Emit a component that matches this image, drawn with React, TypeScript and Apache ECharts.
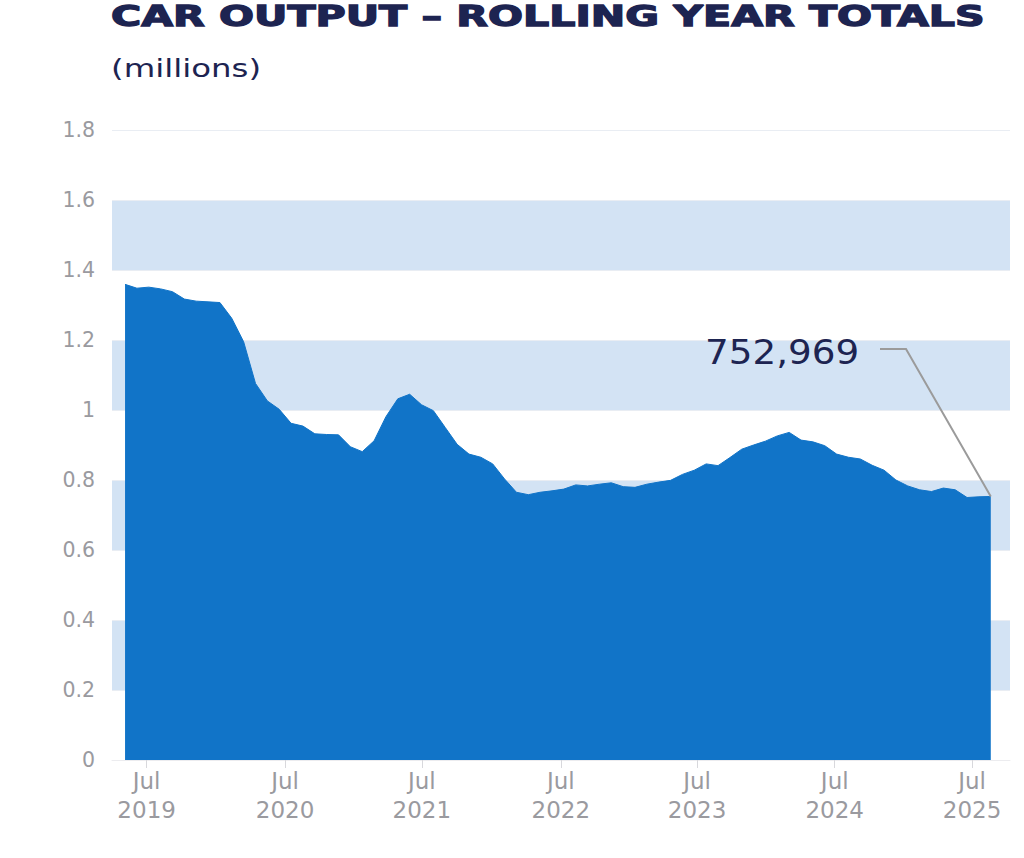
import React, { useEffect, useRef } from "react";
import * as echarts from "echarts";

// Rolling 12-month car output (millions), one value per month, oldest first
const outputMillions: number[] = [
  1.359, 1.348, 1.351, 1.346, 1.338, 1.317, 1.311, 1.309, 1.307, 1.262,
  1.195, 1.076, 1.026, 1.002, 0.962, 0.954, 0.932, 0.93, 0.929, 0.895,
  0.881, 0.912, 0.981, 1.032, 1.045, 1.015, 0.998, 0.95, 0.902, 0.874,
  0.865, 0.846, 0.803, 0.765, 0.758, 0.765, 0.769, 0.774, 0.786, 0.783,
  0.788, 0.792, 0.781, 0.779, 0.788, 0.794, 0.799, 0.816, 0.828, 0.846,
  0.841, 0.864, 0.888, 0.9, 0.911, 0.926, 0.936, 0.914, 0.909, 0.898,
  0.874, 0.865, 0.86, 0.842, 0.828, 0.8, 0.783, 0.772, 0.767, 0.777,
  0.772, 0.75, 0.752, 0.753,
];

// x-axis labels (July of each year) and where they sit on the month index scale
const tickLabels: string[] = [
  "Jul\n2019", "Jul\n2020", "Jul\n2021", "Jul\n2022", "Jul\n2023", "Jul\n2024", "Jul\n2025",
];
const tickPositions: number[] = [1.82, 13.49, 25.02, 36.74, 48.23, 59.84, 71.42];

const latestLabel = "752,969";
const titleText = "CAR OUTPUT \u2013 ROLLING YEAR TOTALS";
const subtitleText = "(millions)";

const NAVY = "#1d2451";
const GREY = "#9a9a9f";
const BLUE = "#1174c8";
const BAND = "#d3e3f4";
const FONT = "DejaVu Sans";

export default function App() {
  const ref = useRef<HTMLDivElement>(null);

  useEffect(() => {
    if (!ref.current) return;
    const chart = echarts.init(ref.current, null, { renderer: "svg" });
    const seriesData = outputMillions.map((v, i) => [i, v]);
    const lastIdx = outputMillions.length - 1;

    chart.setOption({
      animation: false,
      textStyle: { fontFamily: FONT },
      grid: { left: 112, right: 14, top: 130, bottom: 98 },
      xAxis: {
        type: "value",
        min: -1.1,
        max: 74.62,
        splitLine: { show: false },
        axisLine: { show: true, lineStyle: { color: "#ececef", width: 1 } },
        axisTick: {
          show: true,
          customValues: tickPositions,
          length: 8,
          lineStyle: { color: "#d8d8dc" },
        },
        axisLabel: {
          customValues: tickPositions,
          formatter: (v: number) => {
            const k = tickPositions.findIndex((p) => Math.abs(p - v) < 1e-6);
            return k >= 0 ? tickLabels[k] : "";
          },
          color: GREY,
          fontFamily: FONT,
          fontSize: 23,
          lineHeight: 29,
          margin: 6,
        },
      },
      yAxis: {
        type: "value",
        min: 0,
        max: 1.8,
        interval: 0.2,
        axisLine: { show: false },
        axisTick: { show: false },
        axisLabel: {
          formatter: (v: number) => String(Math.round(v * 10) / 10),
          color: GREY,
          fontFamily: FONT,
          fontSize: 20.5,
          margin: 17,
        },
        splitLine: { show: true, lineStyle: { color: "#e9edf3", width: 1 } },
        splitArea: {
          show: true,
          areaStyle: { color: ["rgba(255,255,255,0)", BAND] },
        },
      },
      series: [
        {
          type: "line",
          data: seriesData,
          symbol: "none",
          smooth: false,
          lineStyle: { width: 1, color: BLUE },
          areaStyle: { color: BLUE, opacity: 1 },
          z: 3,
        },
      ],
    });

    const p = chart.convertToPixel({ gridIndex: 0 }, [lastIdx, outputMillions[lastIdx]]) as number[];

    chart.setOption({
      graphic: [
        {
          type: "text",
          x: 111,
          y: 16.3,
          scaleX: 1.47,
          style: {
            text: titleText,
            fontFamily: FONT,
            fontWeight: "bold",
            fontSize: 28,
            fill: NAVY,
            stroke: NAVY,
            lineWidth: 1.3,
            align: "left",
            verticalAlign: "middle",
          },
        },
        {
          type: "text",
          x: 111,
          y: 69.5,
          scaleX: 1.35,
          style: {
            text: subtitleText,
            fontFamily: FONT,
            fontSize: 24,
            fill: NAVY,
            align: "left",
            verticalAlign: "middle",
          },
        },
        {
          type: "text",
          x: 705,
          y: 352,
          scaleX: 1.13,
          style: {
            text: latestLabel,
            fontFamily: FONT,
            fontSize: 33,
            fill: NAVY,
            align: "left",
            verticalAlign: "middle",
          },
        },
        {
          type: "polyline",
          shape: { points: [[880, 349], [906, 349], [p[0], p[1]]] },
          style: { stroke: "#9b9b9b", lineWidth: 2, fill: "none" },
          z: 10,
        },
      ],
    });

    return () => chart.dispose();
  }, []);

  return (
    <div
      ref={ref}
      style={{ position: "fixed", left: 0, top: 0, width: 1024, height: 858, background: "#fff" }}
    />
  );
}
